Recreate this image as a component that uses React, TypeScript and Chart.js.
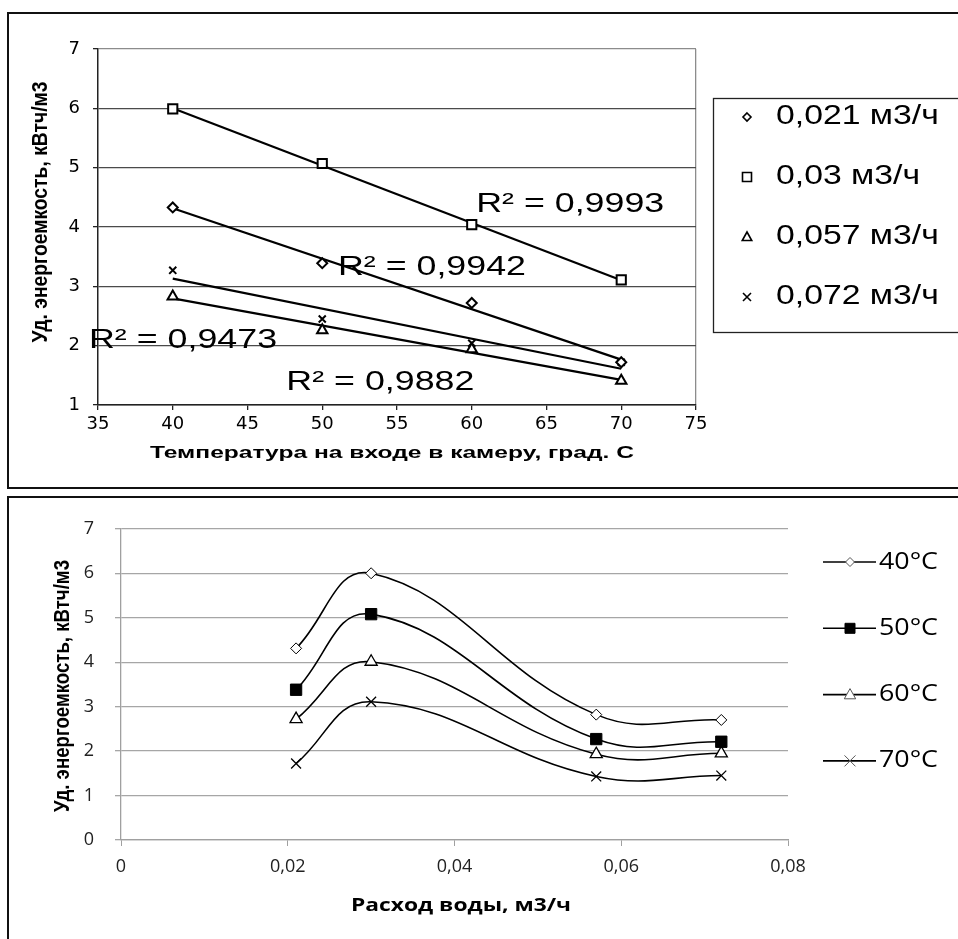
import React, { useEffect, useRef } from 'react';
import { Chart, registerables } from 'chart.js';

Chart.register(...registerables);

// ---------- Top chart data ----------
const tempsC = [40, 50, 60, 70];
const flowSeriesNames = ['0,021 м3/ч', '0,03 м3/ч', '0,057 м3/ч', '0,072 м3/ч'];
const energy021 = [4.33, 3.39, 2.72, 1.72];
const energy030 = [5.99, 5.07, 4.04, 3.11];
const energy057 = [2.83, 2.26, 1.94, 1.41];
const energy072 = [3.27, 2.45, 2.04, 1.72];
const r2Texts = ['R² = 0,9942', 'R² = 0,9993', 'R² = 0,9882', 'R² = 0,9473'];
const topXTicks = ['35', '40', '45', '50', '55', '60', '65', '70', '75'];
const topYTicks = ['1', '2', '3', '4', '5', '6', '7'];
const topXTitle = 'Температура на входе в камеру, град. С';
const yTitle = 'Уд. энергоемкость, кВтч/м3';

// ---------- Bottom chart data ----------
const flowRates = [0.021, 0.03, 0.057, 0.072];
const tempSeriesNames = ['40°C', '50°C', '60°C', '70°C'];
const energy40 = [4.31, 6.0, 2.82, 2.7];
const energy50 = [3.38, 5.08, 2.27, 2.21];
const energy60 = [2.72, 4.01, 1.93, 1.95];
const energy70 = [1.72, 3.11, 1.43, 1.45];
const bottomXTicks = ['0', '0,02', '0,04', '0,06', '0,08'];
const bottomYTicks = ['0', '1', '2', '3', '4', '5', '6', '7'];
const bottomXTitle = 'Расход воды, м3/ч';

const topSeries = [energy021, energy030, energy057, energy072];
const bottomSeries = [energy40, energy50, energy60, energy70];

// label anchors (data coordinates of the R² labels' left/middle)
const r2Anchors = [
  { x: 51.05, y: 3.32 },
  { x: 60.3, y: 4.38 },
  { x: 47.6, y: 1.37 },
  { x: 34.4, y: 2.08 },
];

function linFit(xs: number[], ys: number[]) {
  const n = xs.length;
  const mx = xs.reduce((a, b) => a + b, 0) / n;
  const my = ys.reduce((a, b) => a + b, 0) / n;
  let sxy = 0, sxx = 0;
  for (let i = 0; i < n; i++) {
    sxy += (xs[i] - mx) * (ys[i] - my);
    sxx += (xs[i] - mx) * (xs[i] - mx);
  }
  const b = sxy / sxx;
  return (x: number) => my + b * (x - mx);
}

type TOpts = { font: string; width?: number; sx?: number; sy?: number; align?: 'left' | 'center'; rotate?: boolean; color?: string };
function drawText(ctx: CanvasRenderingContext2D, text: string, x: number, y: number, o: TOpts) {
  ctx.save();
  ctx.font = o.font;
  ctx.fillStyle = o.color || '#000';
  ctx.textBaseline = 'middle';
  ctx.textAlign = 'left';
  const w = ctx.measureText(text).width;
  const sx = o.width ? o.width / w : o.sx || 1;
  const sy = o.sy || 1;
  ctx.translate(x, y);
  if (o.rotate) ctx.rotate(-Math.PI / 2);
  ctx.scale(sx, sy);
  const dx = o.align === 'center' ? -w / 2 : 0;
  ctx.fillText(text, dx, 0);
  ctx.restore();
}

function drawMarker(ctx: CanvasRenderingContext2D, style: string, x: number, y: number, r: number, fill: string, stroke: string, lw: number) {
  ctx.save();
  ctx.beginPath();
  ctx.lineWidth = lw;
  ctx.strokeStyle = stroke;
  ctx.fillStyle = fill;
  if (style === 'diamond') {
    ctx.moveTo(x, y - r); ctx.lineTo(x + r, y); ctx.lineTo(x, y + r); ctx.lineTo(x - r, y); ctx.closePath();
    ctx.fill(); ctx.stroke();
  } else if (style === 'square') {
    ctx.rect(x - r, y - r, 2 * r, 2 * r); ctx.fill(); ctx.stroke();
  } else if (style === 'triangle') {
    ctx.moveTo(x, y - r); ctx.lineTo(x + r * 0.95, y + r * 0.7); ctx.lineTo(x - r * 0.95, y + r * 0.7); ctx.closePath();
    ctx.fill(); ctx.stroke();
  } else {
    ctx.moveTo(x - r, y - r); ctx.lineTo(x + r, y + r); ctx.moveTo(x + r, y - r); ctx.lineTo(x - r, y + r); ctx.stroke();
  }
  ctx.restore();
}

const topMarkerStyles = [
  { ps: 'rectRot', r: 5, legend: 'diamond', lr: 4 },
  { ps: 'rect', r: 6.5, legend: 'square', lr: 4.5 },
  { ps: 'triangle', r: 6, legend: 'triangle', lr: 5 },
  { ps: 'crossRot', r: 5, legend: 'cross', lr: 4 },
];

const topOverlay = {
  id: 'topOverlay',
  afterDraw(chart: any) {
    const ctx: CanvasRenderingContext2D = chart.ctx;
    const xs = chart.scales.x, ys = chart.scales.y;
    r2Anchors.forEach((p, i) => {
      drawText(ctx, r2Texts[i], xs.getPixelForValue(p.x), ys.getPixelForValue(p.y), { font: '27px "Liberation Sans"', width: 188 });
    });
    // legend
    ctx.save();
    ctx.strokeStyle = '#222';
    ctx.lineWidth = 1.3;
    ctx.strokeRect(713.5, 98.5, 300, 234);
    ctx.restore();
    flowSeriesNames.forEach((name, i) => {
      const y = 117 + i * 60;
      const m = topMarkerStyles[i];
      drawMarker(ctx, m.legend, 747, y, m.lr, '#fff', '#000', 1.6);
      drawText(ctx, name, 776, y, { font: '27px "Liberation Sans"', sx: 1.25 });
    });
    // titles
    drawText(ctx, topXTitle, 392, 453, { font: 'bold 17px "Liberation Sans"', width: 484, align: 'center' });
    drawText(ctx, yTitle, 41, 212, { font: 'bold 18px "Liberation Sans"', width: 261, sy: 1.25, align: 'center', rotate: true });
  },
};

const bottomMarkerStyles = [
  { ps: 'rectRot', r: 5.5, bg: '#fff', bw: 1, legend: 'diamond', lr: 4.5, lfill: '#fff' },
  { ps: 'rect', r: 8, bg: '#000', bw: 1, legend: 'square', lr: 5, lfill: '#000' },
  { ps: 'triangle', r: 7, bg: '#fff', bw: 1.3, legend: 'triangle', lr: 6, lfill: '#fff' },
  { ps: 'crossRot', r: 7, bg: '#fff', bw: 1.3, legend: 'cross', lr: 5.5, lfill: '#fff' },
];

const bottomOverlay = {
  id: 'bottomOverlay',
  afterDraw(chart: any) {
    const ctx: CanvasRenderingContext2D = chart.ctx;
    tempSeriesNames.forEach((name, i) => {
      const y = 65 + i * 66.3;
      const m = bottomMarkerStyles[i];
      ctx.save();
      ctx.beginPath();
      ctx.strokeStyle = '#000';
      ctx.lineWidth = 1.6;
      ctx.moveTo(823, y);
      ctx.lineTo(876, y);
      ctx.stroke();
      ctx.restore();
      drawMarker(ctx, m.legend, 850, y, m.lr, m.lfill, i === 1 ? '#000' : '#555', 1);
      drawText(ctx, name, 879, y, { font: '23px "Open Sans"', width: 59 });
    });
    drawText(ctx, bottomXTitle, 461, 409, { font: 'bold 18px "Open Sans"', width: 220, align: 'center' });
    drawText(ctx, yTitle, 63, 189, { font: 'bold 18px "Liberation Sans"', width: 252, sy: 1.25, align: 'center', rotate: true });
  },
};

function topConfig(): any {
  const datasets: any[] = [];
  topSeries.forEach((ys, i) => {
    const m = topMarkerStyles[i];
    datasets.push({
      label: flowSeriesNames[i],
      data: tempsC.map((t, j) => ({ x: t, y: ys[j] })),
      showLine: false,
      pointStyle: m.ps,
      pointRadius: m.r,
      pointBackgroundColor: '#fff',
      pointBorderColor: '#000',
      pointBorderWidth: 2,
    });
  });
  topSeries.forEach((ys, i) => {
    const f = linFit(tempsC, ys);
    const x0 = tempsC[0], x1 = tempsC[tempsC.length - 1];
    datasets.push({
      label: 'trend ' + flowSeriesNames[i],
      data: [{ x: x0, y: f(x0) }, { x: x1, y: f(x1) }],
      showLine: true,
      borderColor: '#000',
      borderWidth: 2.2,
      pointRadius: 0,
    });
  });
  return {
    type: 'scatter',
    data: { datasets },
    options: {
      responsive: false,
      animation: false,
      events: [],
      layout: { padding: { left: 0, top: 49, right: 262, bottom: 0 } },
      plugins: { legend: { display: false }, tooltip: { enabled: false } },
      scales: {
        x: {
          type: 'linear',
          min: 35,
          max: 75,
          afterFit: (s: any) => { s.height = 83; },
          ticks: {
            stepSize: 5,
            color: '#000',
            padding: 4,
            font: { family: '"DejaVu Sans"', size: 18 },
            callback: (v: any, i: number) => topXTicks[i] ?? String(v),
          },
          grid: {
            color: (c: any) => (c.tick && c.tick.value === 75 ? '#8c8c8c' : 'rgba(0,0,0,0)'),
            tickColor: '#222',
            tickLength: 5,
            lineWidth: 1.3,
          },
          border: { color: '#222', width: 1.5 },
        },
        y: {
          type: 'linear',
          min: 1,
          max: 7,
          afterFit: (s: any) => { s.width = 98; },
          ticks: {
            stepSize: 1,
            color: '#000',
            padding: 13,
            font: { family: '"DejaVu Sans"', size: 18 },
            callback: (v: any, i: number) => topYTicks[i] ?? String(v),
          },
          grid: {
            color: (c: any) => (c.tick && c.tick.value === 7 ? '#8c8c8c' : '#4a4a4a'),
            tickColor: '#222',
            tickLength: 5,
            lineWidth: 1.3,
          },
          border: { color: '#222', width: 1.5 },
        },
      },
    },
    plugins: [topOverlay],
  };
}

function bottomConfig(): any {
  const datasets = bottomSeries.map((ys, i) => {
    const m = bottomMarkerStyles[i];
    return {
      label: tempSeriesNames[i],
      data: flowRates.map((q, j) => ({ x: q, y: ys[j] })),
      showLine: true,
      tension: 0.42,
      borderColor: '#000',
      borderWidth: 1.6,
      pointStyle: m.ps,
      pointRadius: m.r,
      pointBackgroundColor: m.bg,
      pointBorderColor: '#000',
      pointBorderWidth: m.bw,
    };
  });
  return {
    type: 'scatter',
    data: { datasets },
    options: {
      responsive: false,
      animation: false,
      events: [],
      layout: { padding: { left: 0, top: 21, right: 170, bottom: 0 } },
      plugins: { legend: { display: false }, tooltip: { enabled: false } },
      scales: {
        x: {
          type: 'linear',
          min: 0,
          max: 0.08,
          afterFit: (s: any) => { s.height = 99; },
          ticks: {
            stepSize: 0.02,
            color: '#222',
            padding: 10,
            font: { family: '"Open Sans"', size: 18 },
            callback: (v: any, i: number) => bottomXTicks[i] ?? String(v),
          },
          grid: { drawOnChartArea: false, color: '#a0a0a0', tickColor: '#a0a0a0', tickLength: 6 },
          border: { color: '#a0a0a0', width: 1.3 },
        },
        y: {
          type: 'linear',
          min: 0,
          max: 7,
          afterFit: (s: any) => { s.width = 121; },
          ticks: {
            stepSize: 1,
            color: '#222',
            padding: 21,
            font: { family: '"Open Sans"', size: 18 },
            callback: (v: any, i: number) => bottomYTicks[i] ?? String(v),
          },
          grid: { color: '#a6a6a6', tickColor: '#a6a6a6', tickLength: 6, lineWidth: 1.3 },
          border: { color: '#a0a0a0', width: 1.3 },
        },
      },
    },
    plugins: [bottomOverlay],
  };
}

function ChartCanvas({ make, width, height, top }: { make: () => any; width: number; height: number; top: number }) {
  const ref = useRef<HTMLCanvasElement>(null);
  useEffect(() => {
    const chart = new Chart(ref.current as HTMLCanvasElement, make());
    return () => chart.destroy();
  }, []);
  return (
    <canvas
      ref={ref}
      width={width}
      height={height}
      style={{ position: 'absolute', left: 0, top, width, height, display: 'block' }}
    />
  );
}

export default function App() {
  return (
    <div style={{ position: 'absolute', left: 0, top: 0, width: 958, height: 939, overflow: 'hidden', background: '#fff' }}>
      <div style={{ position: 'absolute', left: 7, top: 12, width: 1000, height: 477, border: '2px solid #111', boxSizing: 'border-box' }} />
      <div style={{ position: 'absolute', left: 7, top: 496, width: 1000, height: 500, border: '2px solid #111', boxSizing: 'border-box' }} />
      <ChartCanvas make={topConfig} width={958} height={488} top={0} />
      <ChartCanvas make={bottomConfig} width={958} height={442} top={497} />
    </div>
  );
}
